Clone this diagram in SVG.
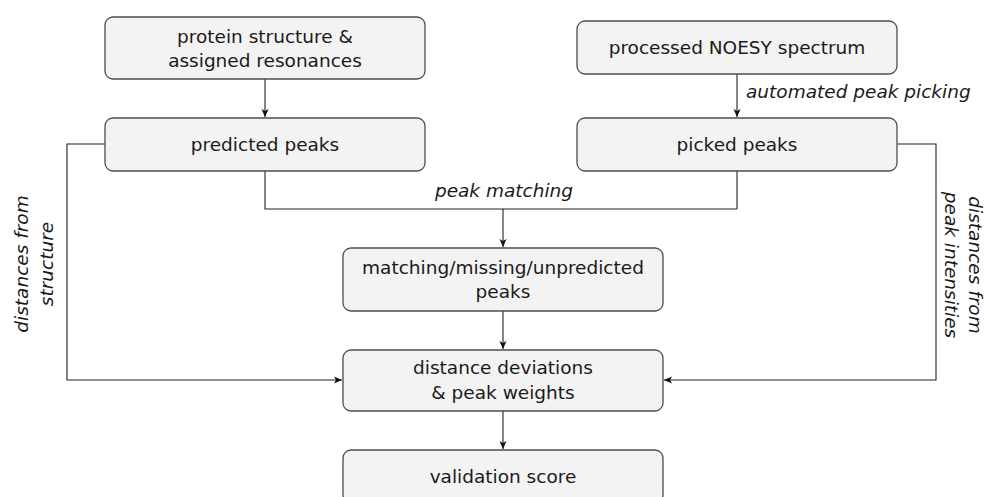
<svg xmlns="http://www.w3.org/2000/svg" width="987" height="497" viewBox="0 0 987 497">
<style>
.box{fill:#f3f3f3;stroke:#4d4d4d;stroke-width:1.3}
.t{font-family:"DejaVu Sans",sans-serif;font-size:18.5px;fill:#1a1a1a;text-anchor:middle}
.lbl{font-family:"DejaVu Sans",sans-serif;font-size:18.5px;font-style:italic;fill:#1a1a1a}
.c{fill:none;stroke:#222;stroke-width:1.1}
</style>
<defs>
<marker id="ah" markerUnits="userSpaceOnUse" markerWidth="10" markerHeight="10" refX="8" refY="4" orient="auto">
<path d="M0,0.5 L8,4 L0,7.5 L2,4 Z" fill="#111"/>
</marker>
</defs>
<g id="connectors">
<path class="c" d="M265,79 V117" marker-end="url(#ah)"/>
<path class="c" d="M737,74 V117" marker-end="url(#ah)"/>
<path class="c" d="M265,171 V209 H737 M737,171 V209"/>
<path class="c" d="M503,209 V247" marker-end="url(#ah)"/>
<path class="c" d="M503,311 V349" marker-end="url(#ah)"/>
<path class="c" d="M503,411 V449" marker-end="url(#ah)"/>
<path class="c" d="M105,144 H67 V380 H342" marker-end="url(#ah)"/>
<path class="c" d="M897,144 H936 V380 H664" marker-end="url(#ah)"/>
<text class="lbl" x="746" y="98">automated peak picking</text>
<text class="lbl" x="504" y="197" text-anchor="middle">peak matching</text>
<text class="lbl" text-anchor="middle" transform="translate(28,264) rotate(-90)"><tspan x="0" y="0">distances from</tspan><tspan x="0" y="24.5">structure</tspan></text>
<text class="lbl" text-anchor="middle" transform="translate(969,265) rotate(90)"><tspan x="0" y="0">distances from</tspan><tspan x="0" y="24.5">peak intensities</tspan></text>
</g>
<g id="n1"><rect class="box" x="105" y="17" width="320" height="62" rx="8"/><text class="t" x="265" y="42.5">protein structure &amp;</text><text class="t" x="265" y="66.5">assigned resonances</text></g>
<g id="n2"><rect class="box" x="577" y="21" width="320" height="53" rx="8"/><text class="t" x="737" y="53.5">processed NOESY spectrum</text></g>
<g id="n3"><rect class="box" x="105" y="118" width="320" height="53" rx="8"/><text class="t" x="265" y="150.5">predicted peaks</text></g>
<g id="n4"><rect class="box" x="577" y="118" width="320" height="53" rx="8"/><text class="t" x="737" y="150.5">picked peaks</text></g>
<g id="n5"><rect class="box" x="343" y="248" width="320" height="63" rx="8"/><text class="t" x="503" y="273.5">matching/missing/unpredicted</text><text class="t" x="503" y="297.5">peaks</text></g>
<g id="n6"><rect class="box" x="343" y="350" width="320" height="61" rx="8"/><text class="t" x="503" y="374">distance deviations</text><text class="t" x="503" y="398.5">&amp; peak weights</text></g>
<g id="n7"><rect class="box" x="343" y="450" width="320" height="53" rx="8"/><text class="t" x="503" y="483">validation score</text></g>
</svg>
